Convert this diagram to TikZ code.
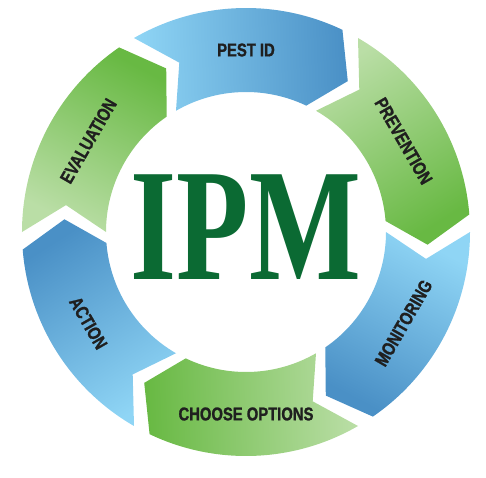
\documentclass[tikz,border=0pt]{standalone}
\usepackage{fontspec}
\setmainfont{Liberation Sans}
\newfontfamily\ipmfont{Liberation Serif}[FakeStretch=0.74]
\newfontfamily\cyclefont{Liberation Sans}[FakeStretch=0.8, FakeBold=1.2]
\definecolor{lightblue}{HTML}{8FD5F5}
\definecolor{darkblue}{HTML}{4A90C6}
\definecolor{lightgreen}{HTML}{BADEA6}
\definecolor{darkgreen}{HTML}{68B943}
\definecolor{ipmgreen}{HTML}{0B6A33}

\begin{document}
\begin{tikzpicture}
[
    x=1pt, y=1pt,
    steplabel/.style={font=\cyclefont\bfseries\fontsize{18.5}{20}\selectfont, text=black!88, inner sep=0pt},
    ipmlabel/.style={font=\ipmfont\bfseries\fontsize{160}{160}\selectfont, text=ipmgreen, inner sep=0pt},
]
\useasboundingbox (-246,-245) rectangle (240,232);
\foreach \a/\c/\t/\r [count=\i, evaluate=\a as \sa using \a-207.75] in
    {120/blue/PEST ID/0, 60/green/PREVENTION/-60, 0/blue/MONITORING/60,
     -60/green/CHOOSE OPTIONS/0, -120/blue/ACTION/-60, 180/green/EVALUATION/60}
{
    \path[top color=dark\c, bottom color=light\c, shading angle=\sa]
        (\a:224) arc[start angle=\a, end angle=\a-55.5, radius=224]
        -- (\a-64:182) -- (\a-55.5:140)
        arc[start angle=\a-55.5, end angle=\a, radius=140]
        -- (\a-8.5:182) -- cycle;
    \node[steplabel, rotate=\r] (step\i) at (\a-30:182) {\t};
}
\node[ipmlabel] (ipm) at (0,4.5) {IPM};
\end{tikzpicture}
\end{document}
